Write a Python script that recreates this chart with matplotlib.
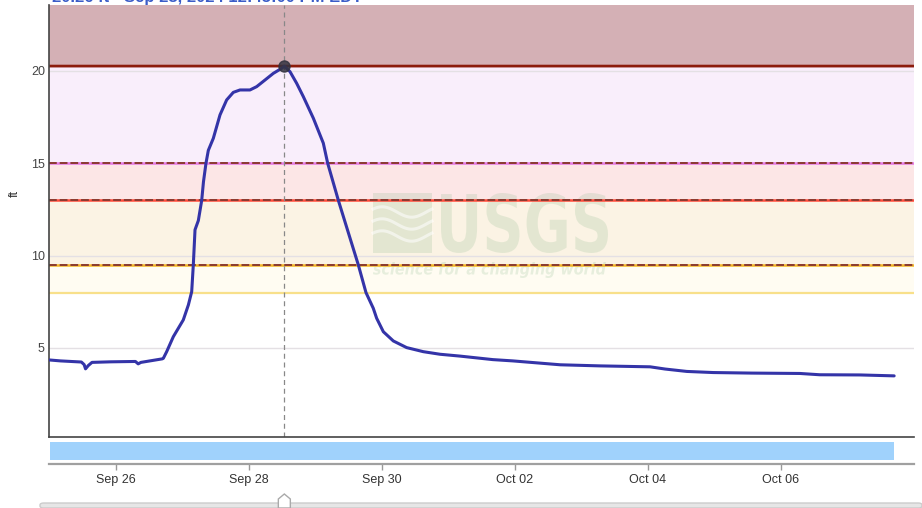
import matplotlib
matplotlib.use("Agg")
import numpy as np
import pandas as pd
import matplotlib.pyplot as plt
import matplotlib.dates as mdates
from matplotlib.patches import Rectangle, Polygon, PathPatch, FancyBboxPatch
from matplotlib.textpath import TextPath
from matplotlib.font_manager import FontProperties
from matplotlib.transforms import Affine2D

plt.rcParams['font.family'] = ['Liberation Sans', 'DejaVu Sans']

# ---------------- data ----------------
times = [
    "2024-09-25 00:00", "2024-09-25 04:00", "2024-09-25 11:30", "2024-09-25 12:30",
    "2024-09-25 13:00", "2024-09-25 14:00", "2024-09-25 15:20", "2024-09-25 22:00",
    "2024-09-26 07:00", "2024-09-26 08:00", "2024-09-26 09:00", "2024-09-26 16:40",
    "2024-09-26 17:05", "2024-09-26 18:17", "2024-09-26 20:41", "2024-09-27 00:17",
    "2024-09-27 02:07", "2024-09-27 03:19", "2024-09-27 03:54", "2024-09-27 04:31",
    "2024-09-27 05:43", "2024-09-27 06:56", "2024-09-27 07:34", "2024-09-27 08:28",
    "2024-09-27 09:19", "2024-09-27 11:07", "2024-09-27 13:32", "2024-09-27 15:56",
    "2024-09-27 18:20", "2024-09-27 20:45", "2024-09-28 00:21", "2024-09-28 02:46",
    "2024-09-28 05:47", "2024-09-28 08:47", "2024-09-28 11:47", "2024-09-28 12:45",
    "2024-09-28 14:48", "2024-09-28 17:12", "2024-09-28 19:36", "2024-09-28 23:13",
    "2024-09-29 02:49", "2024-09-29 04:24", "2024-09-29 08:14", "2024-09-29 11:44",
    "2024-09-29 15:27", "2024-09-29 18:13", "2024-09-29 20:51", "2024-09-29 22:04",
    "2024-09-30 00:29", "2024-09-30 04:05", "2024-09-30 08:54", "2024-09-30 14:54",
    "2024-09-30 20:56", "2024-10-01 04:10", "2024-10-01 16:00", "2024-10-01 23:15",
    "2024-10-02 16:20", "2024-10-03 06:45", "2024-10-04 00:45", "2024-10-04 06:10",
    "2024-10-04 14:00", "2024-10-04 23:30", "2024-10-05 13:30", "2024-10-06 06:50",
    "2024-10-06 14:00", "2024-10-07 04:30", "2024-10-07 16:50",
]
stage_ft = [
    4.35, 4.30, 4.24, 4.10,
    3.87, 4.05, 4.22, 4.25,
    4.27, 4.14, 4.22, 4.41,
    4.44, 4.80, 5.61, 6.52,
    7.33, 8.05, 9.50, 11.40,
    11.90, 13.00, 14.00, 15.00,
    15.70, 16.35, 17.62, 18.43,
    18.84, 18.97, 18.97, 19.15,
    19.51, 19.87, 20.14, 20.26,
    19.96, 19.33, 18.61, 17.44,
    16.09, 15.00, 13.00, 11.30,
    9.50, 8.00, 7.15, 6.61,
    5.88, 5.38, 5.02, 4.80,
    4.66, 4.56, 4.37, 4.30,
    4.09, 4.03, 3.98, 3.86,
    3.73, 3.67, 3.64, 3.62,
    3.55, 3.54, 3.49,
]
peak_time = "2024-09-28 12:45"
peak_ft = 20.26

# flood-category thresholds (ft) and band colours
band_edges = [8.0, 9.5, 13.0, 15.0, 20.27, 30.0]
band_colors = ["#fffcf2", "#fbf3e4", "#fce6e6", "#f9eefb", "#d4b0b5"]
line_levels = [8.0, 9.5, 13.0, 15.0, 20.27]
line_under_colors = ["#f8e08a", "#f2b624", "#ff4a3a", "#e67ae6", "#8c1c0c"]
line_dashed = [False, True, True, True, False]

y_ticks = [5, 10, 15, 20]
tick_dates = ["2024-09-26", "2024-09-28", "2024-09-30", "2024-10-02", "2024-10-04", "2024-10-06"]
tick_labels = ["Sep 26", "Sep 28", "Sep 30", "Oct 02", "Oct 04", "Oct 06"]
title_text = "20.26 ft - Sep 28, 2024 12:45:00 PM EDT"

# ---------------- figure ----------------
W, H = 922, 508
fig = plt.figure(figsize=(W / 100, H / 100), dpi=100)


def px_axes(l, t, r, b):
    return fig.add_axes([l / W, 1 - b / H, (r - l) / W, (b - t) / H])


t = mdates.date2num(pd.to_datetime(times))
t_peak = mdates.date2num(pd.to_datetime(peak_time))
xlim = (mdates.date2num(pd.Timestamp("2024-09-24 23:49")),
        mdates.date2num(pd.Timestamp("2024-10-08 00:00")))

ax = px_axes(49, 5, 914, 437)
ax.set_xlim(*xlim)
ax.set_ylim(0.18, 23.57)

# bands
for lo, hi, c in zip(band_edges[:-1], band_edges[1:], band_colors):
    ax.axhspan(lo, hi, color=c, lw=0, zorder=0)

# grid
for yv in y_ticks:
    ax.axhline(yv, color="#e4e0e4", lw=1.0, zorder=0.5)

# watermark (USGS)
wm_color = "#6aa872"
wm_alpha = 0.16


def fit_text(s, x0, x1, y0, y1, weight="bold", style="normal"):
    tp = TextPath((0, 0), s, size=1, prop=FontProperties(family="DejaVu Sans", weight=weight, style=style))
    ext = tp.get_extents()
    tr = (Affine2D().translate(-ext.x0, -ext.y0)
          .scale((x1 - x0) / ext.width, (y1 - y0) / ext.height)
          .translate(x0, y0) + ax.transAxes)
    ax.add_patch(PathPatch(tp, transform=tr, color=wm_color, alpha=wm_alpha, lw=0, zorder=0.6))


fx = lambda px: (px - 49) / 865
fy = lambda py: (437 - py) / 432
fit_text("USGS", fx(441), fx(608), fy(253), fy(193))
fit_text("science for a changing world", fx(373), fx(606), fy(278), fy(262), style="italic")
# logo block
ax.add_patch(Rectangle((fx(373), fy(253)), fx(432) - fx(373), fy(193) - fy(253),
                       transform=ax.transAxes, color=wm_color, alpha=wm_alpha, lw=0, zorder=0.6))
xs = np.linspace(fx(373), fx(432), 60)
for k, yb in enumerate([212, 224, 236]):
    ys = fy(yb) + 0.012 * np.sin((xs - xs[0]) / (xs[-1] - xs[0]) * 2 * np.pi + 0.6)
    ax.plot(xs, ys, transform=ax.transAxes, color="white", lw=2.2, alpha=0.55, zorder=0.65)

# threshold lines
for lvl, c, dashed in zip(line_levels, line_under_colors, line_dashed):
    if dashed:
        ax.axhline(lvl, color=c, lw=1.8, zorder=1)
        ax.axhline(lvl, color="#8a3a30", lw=1.4, ls=(0, (4, 1.5)), zorder=1.1)
    elif lvl > 10:
        ax.axhline(lvl, color="#c08080", lw=2.6, zorder=1)
        ax.axhline(lvl, color=c, lw=1.5, zorder=1.1)
    else:
        ax.axhline(lvl, color=c, lw=1.6, zorder=1)

# crosshair
ax.axvline(t_peak, color="#888888", lw=0.9, ls=(0, (4, 3)), zorder=2)

# series
ax.plot(t, stage_ft, color="#3434a8", lw=2.2, zorder=3, solid_joinstyle="round", solid_capstyle="round")
ax.plot([t_peak], [peak_ft], "o", ms=8, color="#333340", alpha=0.85, zorder=4)

ax.set_yticks(y_ticks)
ax.set_yticklabels([str(v) for v in y_ticks])
ax.tick_params(axis="y", length=0, pad=3, labelsize=9, labelcolor="#444444")
ax.set_xticks([])
for s in ["top", "right"]:
    ax.spines[s].set_visible(False)
for s in ["left", "bottom"]:
    ax.spines[s].set_color("#444444")
    ax.spines[s].set_linewidth(1.2)
ax.set_ylabel("ft", fontsize=9, color="#333333")
ax.yaxis.set_label_coords(fx(21), fy(193))

# navigator
nav = px_axes(49, 442, 914, 464)
nav.set_xlim(*xlim)
nav.set_ylim(0, 22)
nav.axvspan(t[0], t[-1], ymin=4 / 22, ymax=1, color="#a0d2fc", lw=0)
nav.set_yticks([])
nav.set_xticks(mdates.date2num(pd.to_datetime(tick_dates)))
nav.set_xticklabels(tick_labels)
nav.tick_params(axis="x", length=4, width=1, color="#999999", pad=3, labelsize=9, labelcolor="#333333")
for s in ["top", "right", "left"]:
    nav.spines[s].set_visible(False)
nav.spines["bottom"].set_color("#a0a0a0")
nav.spines["bottom"].set_linewidth(1.6)

# scrollbar at the bottom
fig.patches.append(FancyBboxPatch((40 / W, 0), (W - 40) / W, 5 / H,
                                  boxstyle="round,pad=0,rounding_size=0.004",
                                  transform=fig.transFigure, facecolor="#e6e6e6",
                                  edgecolor="#cccccc", lw=1))
hx = (t_peak - xlim[0]) / (xlim[1] - xlim[0]) * 865 + 49
fig.patches.append(Polygon([((hx - 6) / W, 0), ((hx - 6) / W, 9 / H), (hx / W, 14 / H),
                            ((hx + 6) / W, 9 / H), ((hx + 6) / W, 0)],
                           closed=True, transform=fig.transFigure,
                           facecolor="white", edgecolor="#aaaaaa", lw=1))

# truncated tooltip title at the very top
fig.text(52 / W, 1 - 2 / H, title_text, color="#3a5cc8", fontsize=12, fontweight="bold",
         va="baseline", ha="left")

fig.savefig("out.png", dpi=100)
